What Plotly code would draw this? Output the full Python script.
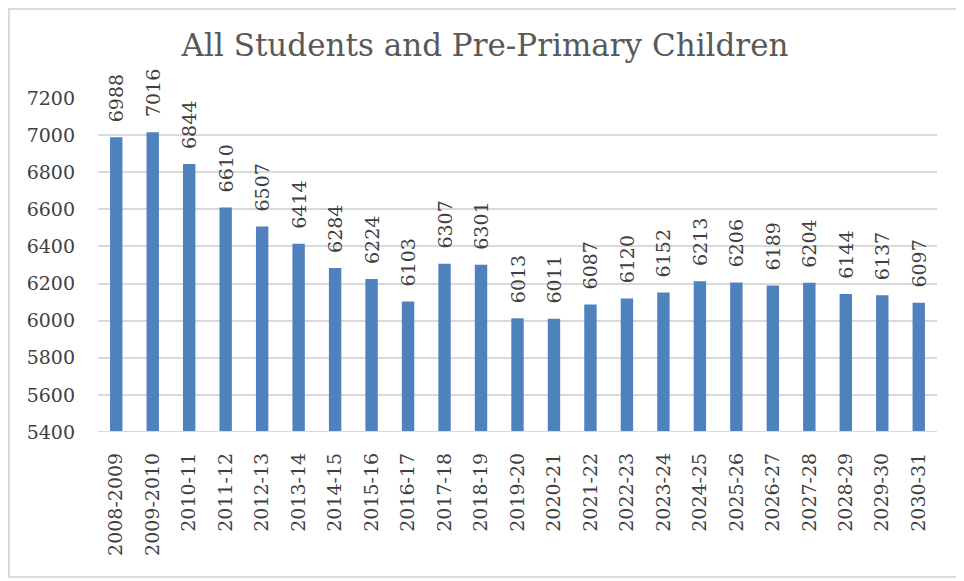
import plotly.graph_objects as go

years = ["2008-2009", "2009-2010", "2010-11", "2011-12", "2012-13", "2013-14", "2014-15",
         "2015-16", "2016-17", "2017-18", "2018-19", "2019-20", "2020-21", "2021-22",
         "2022-23", "2023-24", "2024-25", "2025-26", "2026-27", "2027-28", "2028-29",
         "2029-30", "2030-31"]
students = [6988, 7016, 6844, 6610, 6507, 6414, 6284, 6224, 6103, 6307, 6301, 6013,
            6011, 6087, 6120, 6152, 6213, 6206, 6189, 6204, 6144, 6137, 6097]
y_ticks = [5400, 5600, 5800, 6000, 6200, 6400, 6600, 6800, 7000, 7200]

# page body has an 8px margin; size the figure to fit the window
W, H = 956, 573
L, R, T, B = 90, 27, 90, 149
pw, ph = W - L - R, H - T - B

font_family = "DejaVu Serif"
fig = go.Figure(go.Bar(
    x=years, y=students,
    marker=dict(color="#4f81bd", line=dict(width=0)),
    text=["\u00a0\u00a0" + str(v) for v in students], textposition="outside", textangle=-90,
    constraintext="none",
    textfont=dict(family=font_family, size=19, color="#404040"),
    cliponaxis=False,
))

def px(x):
    return (x - L) / pw

def py(y):
    return 1 - (y - T) / ph

fig.update_layout(
    width=W, height=H,
    margin=dict(l=L, r=R, t=T, b=B),
    paper_bgcolor="white", plot_bgcolor="white",
    bargap=0.66,
    showlegend=False,
    title=dict(text="All Students and Pre-Primary Children", x=0.499, xanchor="center",
               y=1 - 37 / H, yanchor="middle",
               font=dict(family=font_family, size=31, color="#595959")),
    xaxis=dict(type="category", tickangle=-90,
               tickfont=dict(family=font_family, size=19, color="#404040"),
               showline=False, ticks="", showgrid=False, ticklabelstandoff=16),
    yaxis=dict(range=[5400, 7200], tickvals=y_ticks, showgrid=True, gridcolor="#d9d9d9",
               gridwidth=1.5, zeroline=False, ticks="", ticklen=0, ticklabelstandoff=22,
               tickfont=dict(family=font_family, size=19, color="#404040")),
    shapes=[dict(type="rect", xref="paper", yref="paper",
                 x0=px(1), x1=px(962), y0=py(1), y1=py(569),
                 line=dict(color="#d9d9d9", width=2), fillcolor="rgba(0,0,0,0)", layer="below"),
            dict(type="line", xref="paper", yref="y", x0=0, x1=1, y0=5400, y1=5400,
                 line=dict(color="#d9d9d9", width=2))],
)
fig.write_html("out.html")
